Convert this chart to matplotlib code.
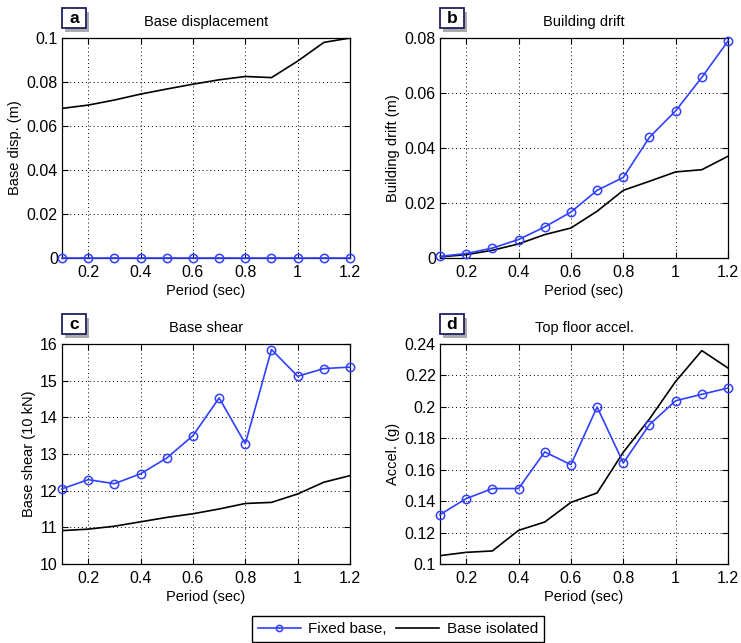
import numpy as np
import matplotlib.pyplot as plt
import matplotlib.patheffects as pe
from matplotlib.patches import Rectangle
from matplotlib.lines import Line2D

plt.rcParams['font.family'] = ['Liberation Sans', 'DejaVu Sans']
plt.rcParams['font.size'] = 10.5

period = [0.1, 0.2, 0.3, 0.4, 0.5, 0.6, 0.7, 0.8, 0.9, 1.0, 1.1, 1.2]

# base displacement (m)
disp_fixed = [0, 0, 0, 0, 0, 0, 0, 0, 0, 0, 0, 0]
disp_iso = [0.068, 0.0695, 0.0718, 0.0745, 0.0768, 0.079, 0.081, 0.0825, 0.082, 0.0895, 0.098, 0.1]

# building drift (m)
drift_fixed = [0.0006, 0.0016, 0.0036, 0.0067, 0.0113, 0.0167, 0.0246, 0.0293, 0.0439, 0.0535, 0.0657, 0.0789]
drift_iso = [0.0004, 0.0012, 0.0028, 0.0051, 0.0085, 0.0109, 0.017, 0.0246, 0.0279, 0.0313, 0.0321, 0.037]

# base shear (10 kN)
shear_fixed = [12.05, 12.3, 12.19, 12.46, 12.89, 13.5, 14.53, 13.28, 15.85, 15.12, 15.33, 15.37]
shear_iso = [10.91, 10.95, 11.03, 11.15, 11.27, 11.37, 11.5, 11.65, 11.68, 11.91, 12.23, 12.41]

# top floor acceleration (g)
acc_fixed = [0.1314, 0.1416, 0.148, 0.148, 0.1713, 0.1632, 0.1999, 0.1643, 0.1887, 0.2039, 0.208, 0.212]
acc_iso = [0.1053, 0.1074, 0.1083, 0.1214, 0.1267, 0.1392, 0.1452, 0.1711, 0.1923, 0.2162, 0.2358, 0.2247]

panels = [
    ('a', 'Base displacement', 'Base disp. (m)', disp_fixed, disp_iso, (0, 0.1), np.arange(0, 0.101, 0.02)),
    ('b', 'Building drift', 'Building drift (m)', drift_fixed, drift_iso, (0, 0.08), np.arange(0, 0.081, 0.02)),
    ('c', 'Base shear', 'Base shear (10 kN)', shear_fixed, shear_iso, (10, 16), np.arange(10, 16.1, 1)),
    ('d', 'Top floor accel.', 'Accel. (g)', acc_fixed, acc_iso, (0.1, 0.24), np.arange(0.1, 0.241, 0.02)),
]
positions = [
    [0.0837, 0.5988, 0.3887, 0.3421],
    [0.5938, 0.5988, 0.3887, 0.3421],
    [0.0837, 0.1229, 0.3887, 0.3421],
    [0.5938, 0.1229, 0.3887, 0.3421],
]

blue = '#3040ff'
fig = plt.figure(figsize=(7.41, 6.43), dpi=100)

for (tag, title, ylab, yf, yi, ylim, yt), pos in zip(panels, positions):
    ax = fig.add_axes(pos)
    ax.plot(period, yf, '-o', color=blue, lw=1.2, ms=6, mfc='none', mew=1.1,
            clip_on=False, zorder=4)
    ax.plot(period, yi, '-', color='black', lw=1.2, zorder=3)
    ax.set_xlim(0.1, 1.2)
    ax.set_ylim(*ylim)
    ax.set_xticks([0.2, 0.4, 0.6, 0.8, 1.0, 1.2])
    ax.set_xticklabels(['0.2', '0.4', '0.6', '0.8', '1', '1.2'])
    ax.set_yticks(yt)
    ax.set_yticklabels(['%g' % round(v, 2) for v in yt])
    ax.tick_params(direction='in', length=4, top=True, right=True, labelsize=11.5, pad=3)
    ax.tick_params(axis='x', pad=5)
    ax.grid(True, linestyle=(0, (1, 3)), color='black', lw=0.7)
    for s in ax.spines.values():
        s.set_linewidth(0.9)
    ax.set_title(title, fontsize=10.5, pad=9)
    ax.set_xlabel('Period (sec)', fontsize=10.5, labelpad=3)
    ax.set_ylabel(ylab, fontsize=10.5, labelpad=3)

    # panel tag in a framed box with a drop shadow
    box = Rectangle((0.0, 1.045), 0.083, 0.091, transform=ax.transAxes, clip_on=False,
                    fc='white', ec='#202060', lw=1.3, zorder=5)
    box.set_path_effects([pe.SimplePatchShadow(offset=(2.5, -2.5), shadow_rgbFace='#888888', alpha=0.7),
                          pe.Normal()])
    ax.add_patch(box)
    ax.text(0.0415, 1.09, tag, transform=ax.transAxes, fontsize=12.5, fontweight='bold',
            ha='center', va='center', zorder=6)

h1 = Line2D([], [], color=blue, lw=1.2, marker='o', ms=4.5, mfc='none', mew=1.1)
h2 = Line2D([], [], color='black', lw=1.2)
fig.legend([h1, h2], ['Fixed base,', 'Base isolated'], loc='upper center',
           bbox_to_anchor=(0.537, 1 - 616 / 643), borderaxespad=0, ncol=2, fontsize=11,
           frameon=True, fancybox=False, edgecolor='black', framealpha=1,
           handlelength=2.8, columnspacing=0.6, handletextpad=0.5, borderpad=0.4)

fig.savefig('out.png', dpi=100)
